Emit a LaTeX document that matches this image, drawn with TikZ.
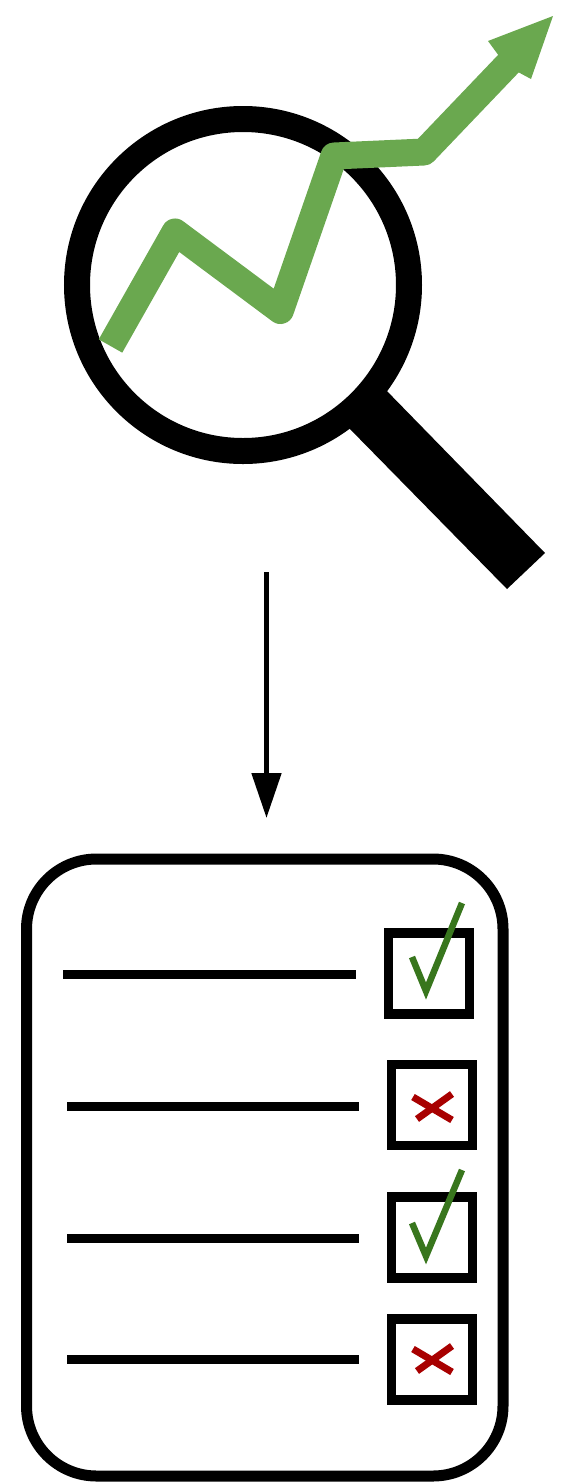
\documentclass[tikz,border=0pt]{standalone}
\usepackage{xcolor}
\usepackage{tikz}
\usetikzlibrary{positioning,arrows.meta,calc}
\definecolor{TrendGreen}{HTML}{6AA84F}
\definecolor{TickGreen}{HTML}{38761D}
\definecolor{CrossRed}{HTML}{A80000}
\tikzset{
  lens/.style={circle, draw=black, line width=26pt, minimum size=332pt, inner sep=0pt, outer sep=0pt},
  sheet/.style={draw=black, line width=11pt, rounded corners=70pt},
  rowline/.style={draw=black, line width=9pt},
  tickbox/.style={rectangle, draw=black, line width=9.5pt, minimum size=81pt, inner sep=0pt},
  tickmark/.style={draw=TickGreen, line width=6.5pt},
  crossmark/.style={draw=CrossRed, line width=7pt},
}
\begin{document}
\begin{tikzpicture}[x=1pt, y=-1pt]
  \useasboundingbox (0,0) rectangle (565,1484);
  % magnifier
  \fill[black] (383,387) -- (545,553) -- (507,589) -- (347,426) -- cycle;
  \node[lens] (glass) at (243,285) {};
  % trend
  \draw[TrendGreen, line width=27pt, line join=round]
    (110.5,346) -- (175,232) -- (280.4,310.5) -- (334,156) -- (424,152) -- (510,62);
  \fill[TrendGreen] (553,16) -- (488,41) -- (499,56) -- (518,72) -- (531,79) -- cycle;
  % flow
  \coordinate (flowstart) at (266.5,572);
  \coordinate (flowend) at (266.5,818);
  \draw[line width=5pt, -{Triangle[length=45pt,width=29pt]}] (flowstart) -- (flowend);
  % checklist
  \draw[sheet] (26.5,859) rectangle (503,1476);
  \coordinate (rowa) at (63,974);
  \coordinate (rowb) at (67,1106);
  \coordinate (rowc) at (67,1238);
  \coordinate (rowd) at (67,1359);
  \coordinate (rowaend) at (356,974);
  \coordinate (rowbend) at (359,1106);
  \coordinate (rowcend) at (359,1238);
  \coordinate (rowdend) at (359,1359);
  \draw[rowline] (rowa) -- (rowaend);
  \draw[rowline] (rowb) -- (rowbend);
  \draw[rowline] (rowc) -- (rowcend);
  \draw[rowline] (rowd) -- (rowdend);
  \node[tickbox] (boxa) at (429,973.5) {};
  \node[tickbox] (boxb) at (432,1105) {};
  \node[tickbox] (boxc) at (432,1237.5) {};
  \node[tickbox] (boxd) at (432,1359.5) {};
  \draw[tickmark] (412,957) -- (426,991) -- (462,903);
  \draw[tickmark] (412,1223) -- (426,1256) -- (462,1170);
  \draw[crossmark] (413,1097) -- (452,1120);
  \draw[crossmark] (452,1094) -- (417,1119);
  \draw[crossmark] (413,1349) -- (452,1372);
  \draw[crossmark] (452,1346) -- (417,1371);
\end{tikzpicture}
\end{document}
